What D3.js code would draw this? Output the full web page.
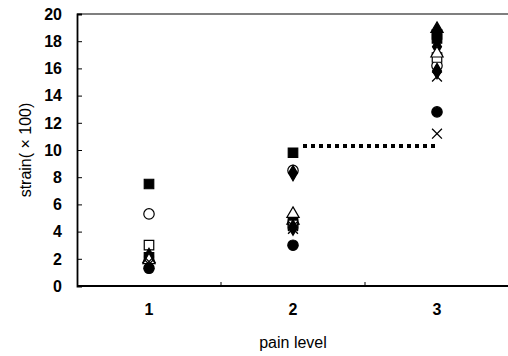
<!DOCTYPE html>
<html>
<head>
<meta charset="utf-8">
<script src="https://cdn.jsdelivr.net/npm/d3@7"></script>
<style>
  body { margin: 0; background: #fff; }
  svg { display: block; font-family: "Liberation Sans", Arial, sans-serif; }
</style>
</head>
<body>
<svg id="chart" width="508" height="356"></svg>
<script>
// pain level categories
const painLevels = [1, 2, 3];
const yTicks = [0, 2, 4, 6, 8, 10, 12, 14, 16, 18, 20];

// one array per subject (strain x100)
const filledSquare = [7.5, 9.8, 18.5];
const filledSquare2 = [2.1, 4.6, 18.2];
const openCircle = [5.3, 8.5, 16.2];
const openSquare = [3.0, 4.5, 16.8];
const filledDiamond = [2.2, 8.3, 17.6];
const filledDiamond2 = [1.9, 4.3, 15.8];
const openTriangle = [1.9, 5.3, 17.1];
const crossA = [1.8, 4.2, 15.4];
const crossB = [1.6, 4.4, 11.2];
const filledCircle = [1.3, 3.0, 12.8];
const filledTriangle = [2.0, 4.8, 18.9];

// dotted threshold line between level 2 and 3
const thresholdLevels = [2, 3];
const thresholdValue = 10.3;

const series = [
  { values: filledTriangle, shape: "triangle", fill: true },
  { values: filledSquare, shape: "square", fill: true },
  { values: filledSquare2, shape: "square", fill: true },
  { values: openCircle, shape: "circle", fill: false },
  { values: openSquare, shape: "square", fill: false },
  { values: filledDiamond, shape: "diamond", fill: true },
  { values: filledDiamond2, shape: "diamond", fill: true },
  { values: openTriangle, shape: "triangle", fill: false },
  { values: crossA, shape: "cross", fill: false },
  { values: crossB, shape: "cross", fill: false },
  { values: filledCircle, shape: "circle", fill: true },
];

const svg = d3.select("#chart");
const margin = { left: 77, top: 14, right: 0, bottom: 70 };
const width = 508;
const height = 356;

const x = d3.scaleBand()
  .domain(painLevels)
  .range([margin.left, width + 1]);
const y = d3.scaleLinear()
  .domain([0, 20])
  .range([height - margin.bottom, margin.top]);

const cx = (d) => x(d) + x.bandwidth() / 2;

// frame: top line
svg.append("line")
  .attr("x1", margin.left).attr("x2", width)
  .attr("y1", y(20)).attr("y2", y(20))
  .attr("stroke", "#000").attr("stroke-width", 1.2);

// y axis, ticks pointing inward
const yAxis = svg.append("g")
  .attr("transform", "translate(" + margin.left + ",0)")
  .call(d3.axisRight(y).tickValues(yTicks).tickSize(5).tickFormat(""));
yAxis.select(".domain").attr("stroke-width", 1.8);
yAxis.selectAll(".tick line").attr("stroke-width", 1);

svg.append("g")
  .selectAll("text")
  .data(yTicks)
  .enter()
  .append("text")
  .attr("x", 62)
  .attr("y", (d) => y(d))
  .attr("dy", "0.36em")
  .attr("text-anchor", "end")
  .attr("font-size", 16)
  .attr("font-weight", "bold")
  .text((d) => d);

// x axis with tick marks on category boundaries
const xAxis = svg.append("g")
  .attr("transform", "translate(0," + y(0) + ")");
xAxis.append("line")
  .attr("x1", margin.left).attr("x2", width)
  .attr("y1", 0).attr("y2", 0)
  .attr("stroke", "#000").attr("stroke-width", 1.8);
xAxis.selectAll(".bound")
  .data(painLevels.slice(1))
  .enter()
  .append("line")
  .attr("x1", (d) => x(d)).attr("x2", (d) => x(d))
  .attr("y1", 0).attr("y2", -4)
  .attr("stroke", "#000");
xAxis.selectAll("text")
  .data(painLevels)
  .enter()
  .append("text")
  .attr("x", (d) => cx(d))
  .attr("y", 29)
  .attr("text-anchor", "middle")
  .attr("font-size", 16)
  .attr("font-weight", "bold")
  .text((d) => d);

// axis titles
svg.append("text")
  .attr("x", cx(2))
  .attr("y", 348)
  .attr("text-anchor", "middle")
  .attr("font-size", 16)
  .text("pain level");

svg.append("text")
  .attr("transform", "translate(31," + y(10) + ") rotate(-90)")
  .attr("text-anchor", "middle")
  .attr("font-size", 16)
  .text("strain( × 100)");

// dotted threshold line
svg.append("line")
  .attr("x1", cx(thresholdLevels[0]) + 10)
  .attr("x2", cx(thresholdLevels[1]) - 2)
  .attr("y1", y(thresholdValue))
  .attr("y2", y(thresholdValue))
  .attr("stroke", "#000")
  .attr("stroke-width", 4)
  .attr("stroke-dasharray", "4,4");

// markers
const shapePath = {
  square: d3.symbol().type(d3.symbolSquare).size(90),
  circle: d3.symbol().type(d3.symbolCircle).size(85),
  diamond: d3.symbol().type(d3.symbolDiamond).size(70),
  triangle: d3.symbol().type(d3.symbolTriangle).size(65),
  cross: d3.symbol().type(d3.symbolX).size(65),
};

series.forEach((s) => {
  svg.append("g")
    .selectAll("path")
    .data(s.values)
    .enter()
    .append("path")
    .attr("transform", (d, i) => "translate(" + cx(painLevels[i]) + "," + y(d) + ")")
    .attr("d", shapePath[s.shape]())
    .attr("fill", s.fill ? "#000" : (s.shape === "cross" ? "none" : "#fff"))
    .attr("stroke", "#000")
    .attr("stroke-width", s.shape === "cross" ? 1.3 : 1.2);
});
</script>
</body>
</html>
